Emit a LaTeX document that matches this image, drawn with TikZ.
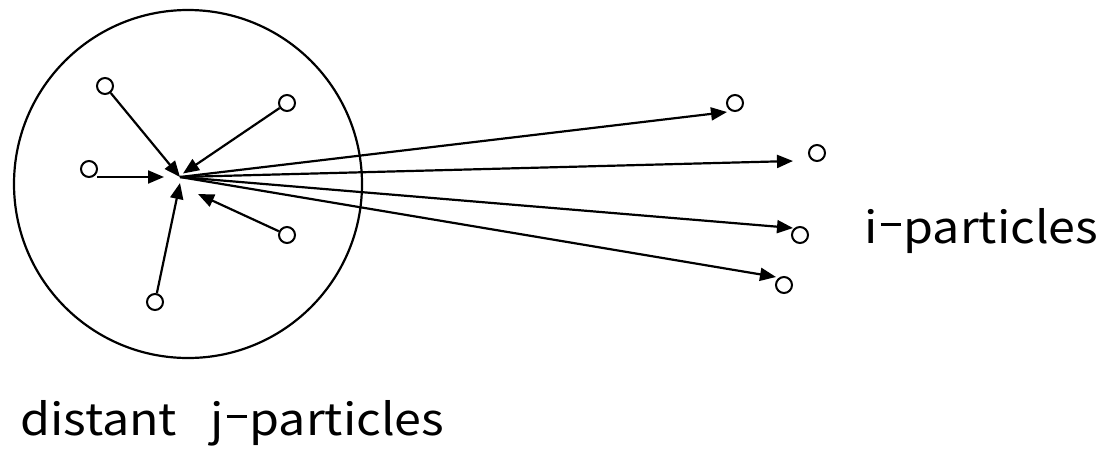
\documentclass[tikz,border=0pt]{standalone}
\usepackage{fontspec}
\newfontfamily\gothic[FakeStretch=1.1]{Noto Sans CJK JP}
\usetikzlibrary{arrows.meta}
\newcommand\mydash{\hspace{3pt}\rule[17.5pt]{20pt}{3pt}\hspace{3pt}}
\begin{document}
\begin{tikzpicture}[x=1pt,y=-1pt,
  ln/.style={line width=2.2pt},
  arr/.style={ln,-{Triangle[length=16pt,width=13pt]}},
  pt/.style={circle,draw,line width=2pt,minimum size=16pt,inner sep=0pt},
  lbl/.style={font=\gothic\fontsize{44}{48}\selectfont,inner sep=0pt}]
\useasboundingbox (0,0) rectangle (1102,448);
\node[circle,draw,line width=2.2pt,minimum size=348pt,inner sep=0pt] (big) at (188,184) {};
\coordinate (c) at (180,177);
% j particles
\node[pt] (a1) at (105,86) {};
\node[pt] (a2) at (287,103) {};
\node[pt] (a3) at (89,169) {};
\node[pt] (a4) at (287,235) {};
\node[pt] (a5) at (155,302) {};
\coordinate (a3s) at (97,177);
\coordinate (a3t) at (164,177);
\coordinate (a4t) at (198,194);
\coordinate (a5t) at (180,183);
\coordinate (a2t) at (183,173.5);
\draw[arr] (a1) -- (c);
\draw[arr] (a2) -- (a2t);
\draw[arr] (a3s) -- (a3t);
\draw[arr] (a4) -- (a4t);
\draw[arr] (a5) -- (a5t);
% i particles
\node[pt] (b1) at (735,103) {};
\node[pt] (b2) at (817,153) {};
\node[pt] (b3) at (800,235) {};
\node[pt] (b4) at (784,285) {};
\coordinate (t1) at (727,112);
\coordinate (t2) at (793,161);
\coordinate (t3) at (793,228);
\coordinate (t4) at (776,277);
\draw[arr] (c) -- (t1);
\draw[arr] (c) -- (t2);
\draw[arr] (c) -- (t3);
\draw[arr] (c) -- (t4);
\node[lbl,anchor=base west] (il) at (864,243) {i\mydash particles};
\node[lbl,anchor=base west] (jl) at (20,435) {distant\hspace{0.75em}j\mydash particles};
\end{tikzpicture}
\end{document}
